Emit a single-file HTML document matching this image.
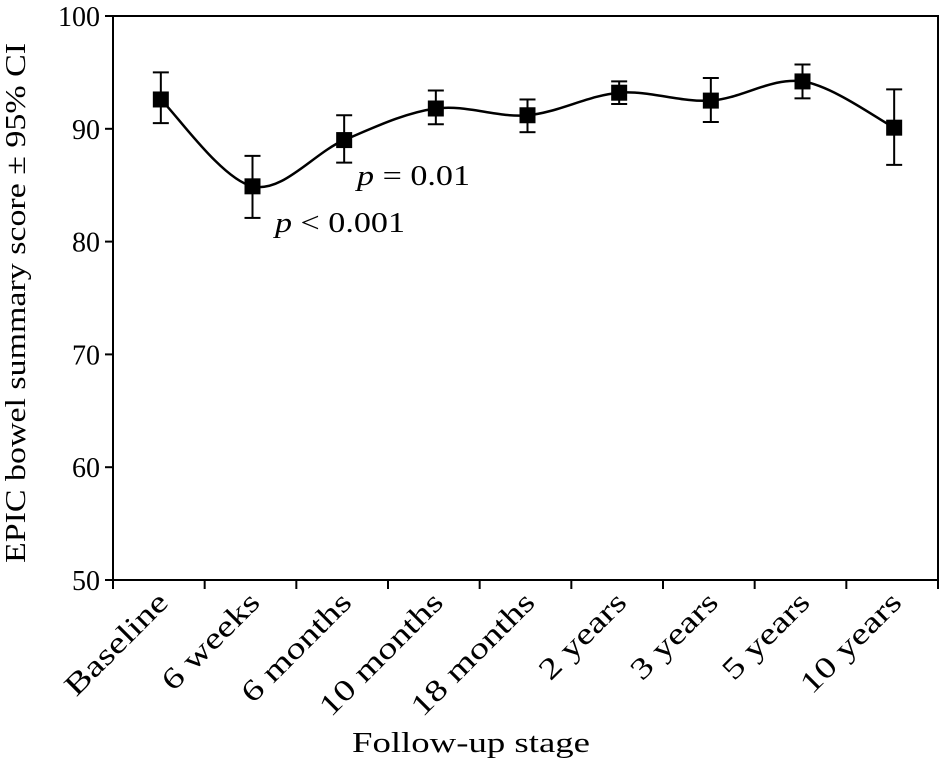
<!DOCTYPE html>
<html><head><meta charset="utf-8"><style>
body{margin:0;background:#fff}
svg text{font-family:"Liberation Serif",serif;fill:#000}
</style></head><body>
<svg id="chart" width="942" height="761" xmlns="http://www.w3.org/2000/svg">
<rect x="113" y="16" width="825" height="564" fill="none" stroke="#000" stroke-width="2"/>
<g id="yt"></g><g id="xt"></g><g id="series"></g>
<text transform="translate(25,303) rotate(-90)" text-anchor="middle" font-size="28" textLength="520" lengthAdjust="spacingAndGlyphs">EPIC bowel summary score ± 95% CI</text>
<text x="471" y="752" text-anchor="middle" font-size="29" textLength="238" lengthAdjust="spacingAndGlyphs">Follow-up stage</text>
<text x="275" y="232" font-size="29" textLength="130" lengthAdjust="spacingAndGlyphs"><tspan font-style="italic">p</tspan> &lt; 0.001</text>
<text x="357" y="185" font-size="29" textLength="113" lengthAdjust="spacingAndGlyphs"><tspan font-style="italic">p</tspan> = 0.01</text>
</svg>
<script>
const categories=["Baseline","6 weeks","6 months","10 months","18 months","2 years","3 years","5 years","10 years"];
const means=[92.6,84.9,89.0,91.8,91.2,93.2,92.5,94.2,90.1];
const upper=[95.0,87.6,91.2,93.4,92.6,94.2,94.5,95.7,93.5];
const lower=[90.5,82.1,87.0,90.4,89.7,92.2,90.6,92.7,86.8];
const yTicks=[50,60,70,80,90,100];
const NS="http://www.w3.org/2000/svg";
const X0=113,X1=938,Y0=580,Y1=16;
const bw=(X1-X0)/categories.length;
const xs=i=>X0+bw*(i+0.5)+2;
const ys=v=>Y0-(v-50)/50*(Y0-Y1);
function mk(t,a,p){const e=document.createElementNS(NS,t);for(const k in a)e.setAttribute(k,a[k]);p.appendChild(e);return e;}
function widen(t,f){const w=t.getComputedTextLength();t.setAttribute('textLength',w*f);t.setAttribute('lengthAdjust','spacingAndGlyphs');}
const yt=document.getElementById('yt'),xt=document.getElementById('xt'),sg=document.getElementById('series');
yTicks.forEach(v=>{
 const l=mk('line',{x1:X0-8,x2:X0,y1:ys(v),y2:ys(v),stroke:'#000','stroke-width':2},yt);
 
 
 const t=mk('text',{x:X0-13,y:ys(v)+10,'text-anchor':'end','font-size':28},yt);
 t.textContent=v;
 
 
});
for(let i=0;i<=categories.length;i++){
 const x=X0+bw*i;
 const l=mk('line',{x1:x,x2:x,y1:Y0,y2:Y0+9,stroke:'#000','stroke-width':2},xt);
 
 
}
categories.forEach((c,i)=>{
 const x=xs(i)+9,y=Y0+24;
 const t=mk('text',{x:x,y:y,'text-anchor':'end','font-size':30,transform:`rotate(-45 ${x} ${y})`},xt);
 t.textContent=c;
 
 
 widen(t,1.28);
});
const P=means.map((v,i)=>[xs(i),ys(v)]);
let d=`M${P[0][0]},${P[0][1]}`;
for(let i=0;i<P.length-1;i++){
 const p0=P[Math.max(i-1,0)],p1=P[i],p2=P[i+1],p3=P[Math.min(i+2,P.length-1)];
 const c1=[p1[0]+(p2[0]-p0[0])/6,p1[1]+(p2[1]-p0[1])/6];
 const c2=[p2[0]-(p3[0]-p1[0])/6,p2[1]-(p3[1]-p1[1])/6];
 d+=` C${c1[0]},${c1[1]} ${c2[0]},${c2[1]} ${p2[0]},${p2[1]}`;
}
const line=mk('path',{d:d,fill:'none',stroke:'#000','stroke-width':2.5},sg);


means.forEach((v,i)=>{
 const x=xs(i);
 const g=mk('g',{},sg);
 
 
 mk('line',{x1:x,x2:x,y1:ys(upper[i]),y2:ys(lower[i]),stroke:'#000','stroke-width':2},g);
 mk('line',{x1:x-8,x2:x+8,y1:ys(upper[i]),y2:ys(upper[i]),stroke:'#000','stroke-width':2},g);
 mk('line',{x1:x-8,x2:x+8,y1:ys(lower[i]),y2:ys(lower[i]),stroke:'#000','stroke-width':2},g);
 const r=mk('rect',{x:x-8,y:ys(v)-8,width:16,height:16,fill:'#000'},sg);
 
 
});
</script>
</body></html>
